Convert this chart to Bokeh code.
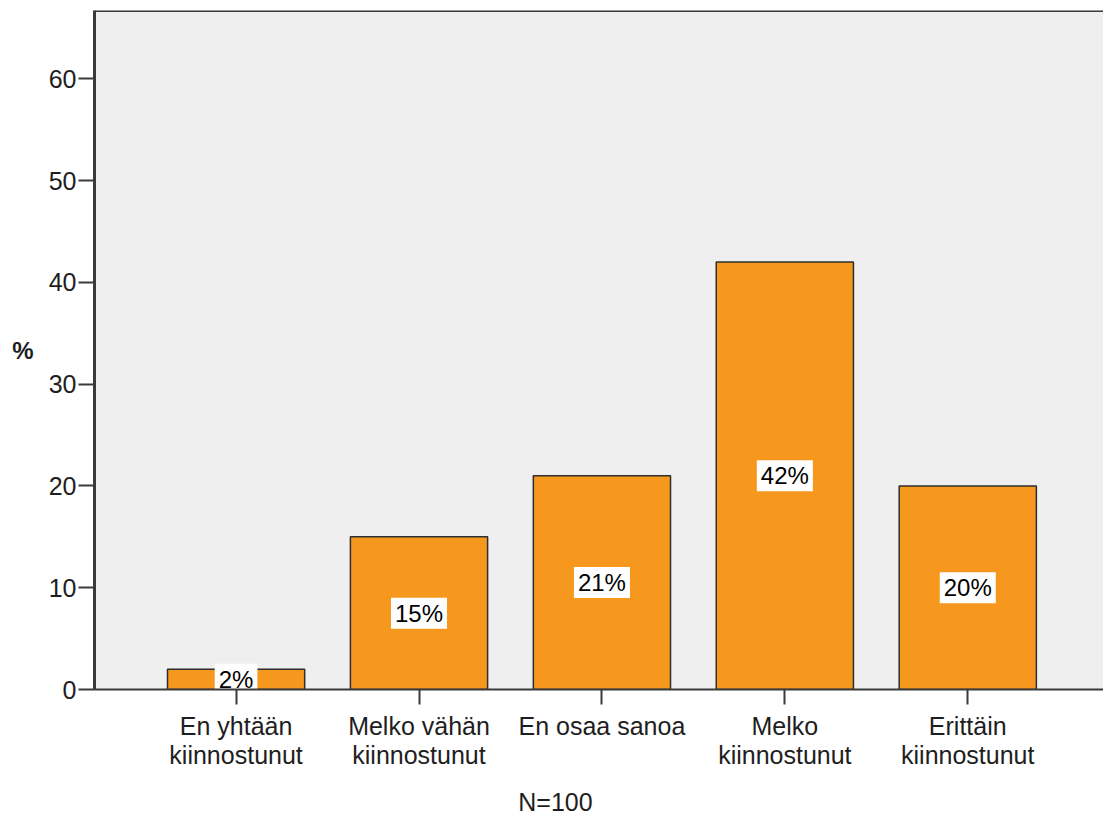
from bokeh.plotting import figure
from bokeh.models import Range1d, FixedTicker, Span, LinearAxis, ColumnDataSource
from bokeh.core.properties import value
from bokeh.embed import file_html
from bokeh.resources import INLINE

categories = ["En yhtään\nkiinnostunut", "Melko vähän\nkiinnostunut", "En osaa sanoa",
              "Melko\nkiinnostunut", "Erittäin\nkiinnostunut"]
values = [2, 15, 21, 42, 20]
value_labels = ["2%", "15%", "21%", "42%", "20%"]
y_ticks = [0, 10, 20, 30, 40, 50, 60]
note = "N=100"
note_x = 1.746

FONT = "Liberation Sans"
AXIS_COLOR = "#3a3a3a"
TEXT_COLOR = "#1e1e1e"

xs = list(range(len(categories)))
src = ColumnDataSource(dict(x=xs, top=values, mid=[v / 2 for v in values], lab=value_labels))

p = figure(width=1103, height=818, output_backend="svg", toolbar_location=None,
           x_range=Range1d(-0.774, 4.742), y_range=Range1d(0, 66.7),
           min_border_left=94, min_border_right=0, min_border_top=10, min_border_bottom=129)
p.background_fill_color = "#efefef"
p.border_fill_color = "white"
p.outline_line_color = None
p.grid.visible = False

p.vbar(x="x", top="top", bottom=0, width=0.75, source=src,
       fill_color="#f7981e", line_color="#2e2e2e", line_width=1.5)
p.text(x="x", y="mid", text="lab", source=src, text_align="center", text_baseline="middle",
       text_font=value(FONT), text_font_size="24px", text_color="black",
       background_fill_color="white",
       padding=dict(left=4, right=4, top=2, bottom=2))

# top border of the plot area
p.add_layout(Span(location=66.7, dimension="width", line_color=AXIS_COLOR, line_width=3))

# x axis
xa = p.xaxis[0]
xa.ticker = FixedTicker(ticks=xs)
xa.major_label_overrides = {i: c for i, c in zip(xs, categories)}
xa.minor_tick_line_color = None
xa.major_tick_in = 0
xa.major_tick_out = 15
xa.major_tick_line_width = 2
xa.major_tick_line_color = AXIS_COLOR
xa.axis_line_width = 2
xa.axis_line_color = AXIS_COLOR
xa.major_label_standoff = 7
xa.major_label_text_font = FONT
xa.major_label_text_font_size = "25px"
xa.major_label_text_line_height = 1.06
xa.major_label_text_color = TEXT_COLOR

# note below the category labels
na = LinearAxis(ticker=FixedTicker(ticks=[note_x]),
                major_label_overrides={note_x: note},
                axis_line_color=None, major_tick_line_color=None, minor_tick_line_color=None,
                major_tick_in=0, major_tick_out=0, major_label_standoff=15,
                major_label_text_font=FONT, major_label_text_font_size="25px",
                major_label_text_color=TEXT_COLOR)
p.add_layout(na, "below")

# y axis
ya = p.yaxis[0]
ya.ticker = FixedTicker(ticks=y_ticks)
ya.minor_tick_line_color = None
ya.major_tick_in = 0
ya.major_tick_out = 16
ya.major_tick_line_width = 2
ya.major_tick_line_color = AXIS_COLOR
ya.axis_line_width = 3
ya.axis_line_color = AXIS_COLOR
ya.major_label_standoff = 2
ya.major_label_text_font = FONT
ya.major_label_text_font_size = "25px"
ya.major_label_text_color = TEXT_COLOR
ya.axis_label = "%"
ya.axis_label_orientation = "horizontal"
ya.axis_label_text_font = FONT
ya.axis_label_text_font_style = "bold"
ya.axis_label_text_font_size = "24px"
ya.axis_label_text_color = TEXT_COLOR
ya.axis_label_standoff = 12

open("out.html", "w").write(file_html(p, INLINE))
